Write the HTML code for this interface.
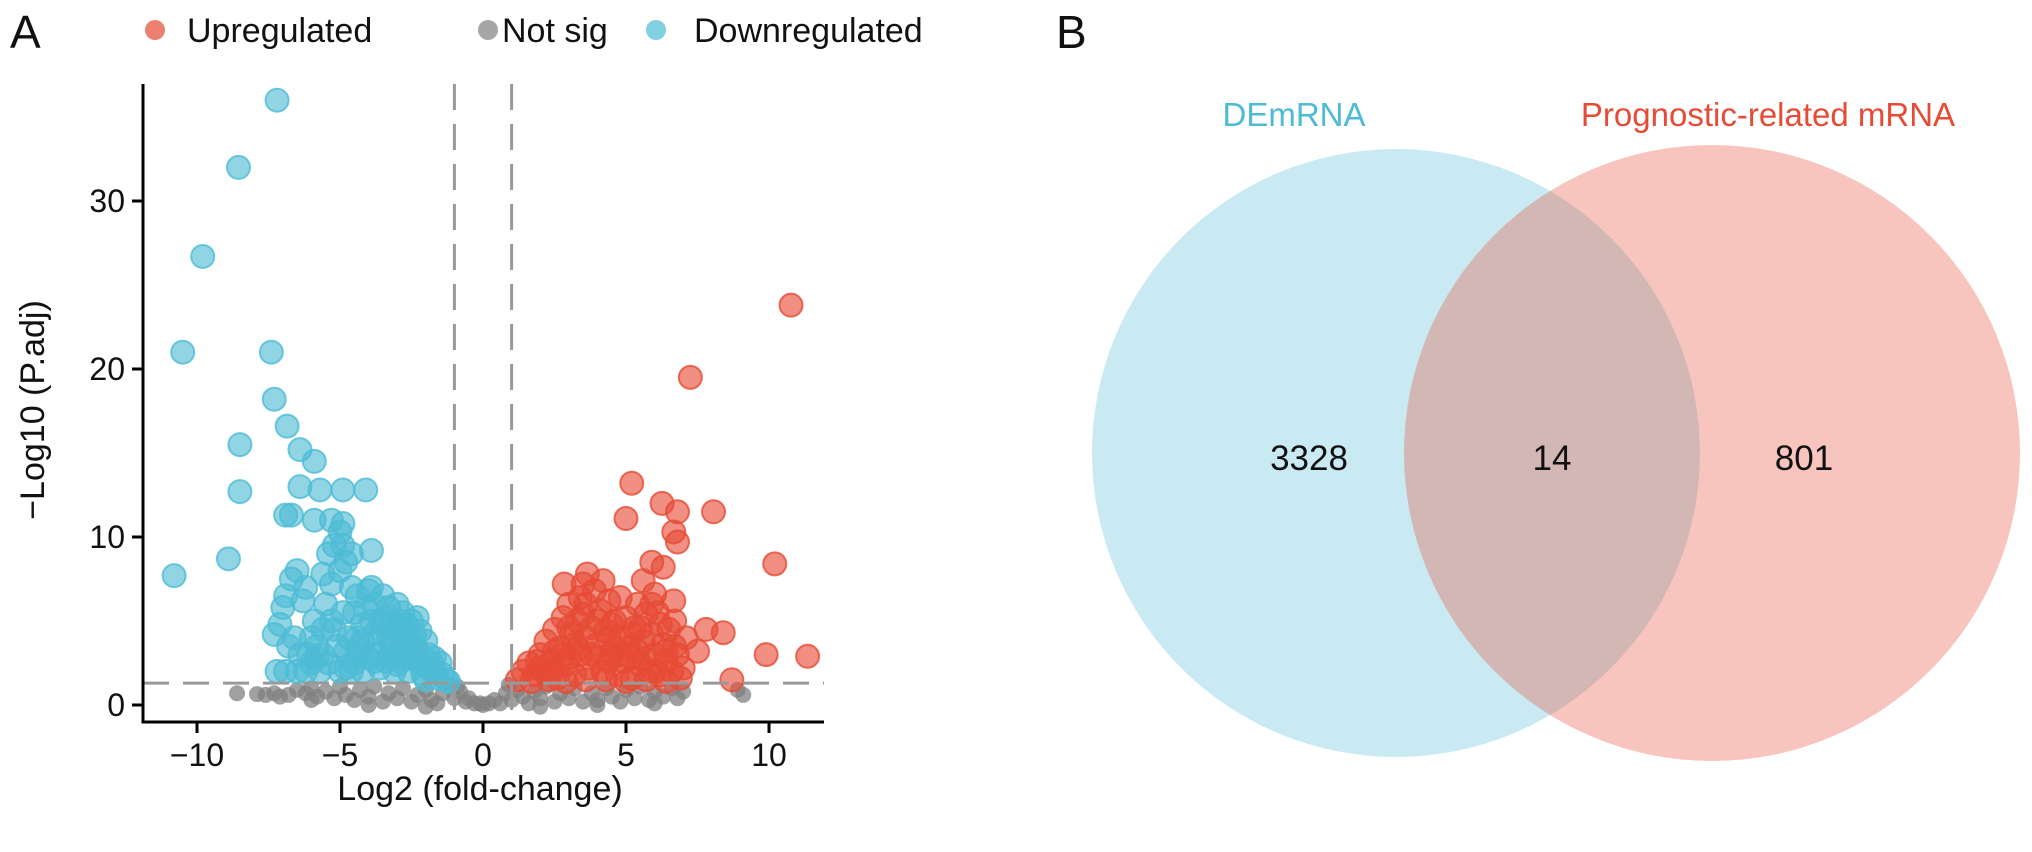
<!DOCTYPE html>
<html><head><meta charset="utf-8">
<style>
html,body{margin:0;padding:0;background:#fff;}
svg{display:block;font-family:"Liberation Sans",Arial,sans-serif;}
</style></head>
<body>
<svg id="fig" width="2032" height="852" viewBox="0 0 2032 852" xmlns="http://www.w3.org/2000/svg">
<text x="10" y="48" font-size="46" fill="#111">A</text>
<g>
  <g><circle cx="155" cy="30" r="10" fill="#E64B35" fill-opacity="0.7"/><text x="187" y="42" font-size="34" fill="#111">Upregulated</text></g>
  <g><circle cx="488" cy="30" r="10" fill="#808080" fill-opacity="0.7"/><text x="502" y="42" font-size="34" fill="#111">Not sig</text></g>
  <g><circle cx="656" cy="30" r="10" fill="#4DBBD5" fill-opacity="0.7"/><text x="694" y="42" font-size="34" fill="#111">Downregulated</text></g>
</g>
<g id="plot"></g>
<text transform="translate(44,410) rotate(-90)" text-anchor="middle" font-size="34" fill="#111">−Log10 (P.adj)</text>
<text x="480" y="800" text-anchor="middle" font-size="34" fill="#111">Log2 (fold-change)</text>

<text x="1056" y="48" font-size="46" fill="#111">B</text>
<g>
  <circle cx="1396" cy="453" r="304" fill="#4DBBD5" fill-opacity="0.3"/>
  <circle cx="1712" cy="453" r="308" fill="#E64B35" fill-opacity="0.32"/>
  <text x="1294" y="126" text-anchor="middle" font-size="33" fill="#4DBBD5">DEmRNA</text>
  <text x="1768" y="126" text-anchor="middle" font-size="33" fill="#E64B35">Prognostic-related mRNA</text>
  <text x="1309" y="470" text-anchor="middle" font-size="35" fill="#111">3328</text>
  <text x="1552" y="470" text-anchor="middle" font-size="35" fill="#111">14</text>
  <text x="1804" y="470" text-anchor="middle" font-size="35" fill="#111">801</text>
</g>
</svg>
<script>
const xTicks = [-10, -5, 0, 5, 10];
const yTicks = [0, 10, 20, 30];
const fcThreshold = [-1, 1];
const pThreshold = 1.3;
const downX = [-7.2,-8.55,-9.8,-10.5,-7.4,-7.3,-6.85,-8.5,-6.4,-5.9,-8.5,-6.4,-5.7,-4.9,-4.1,-6.7,-6.9,-5.9,-5.3,-4.9,-8.9,-10.8,-3.9,
-7.3,-7.1,-7.0,-6.9,-6.7,-6.5,-6.3,-6.8,-6.5,-6.2,-6.0,-5.8,-5.6,-5.5,-5.3,-5.2,-5.0,-4.8,-4.6,-4.5,-4.4,-4.3,-4.2,-4.0,-3.9,-3.8,-3.7,-3.6,-3.5,-3.4,-3.3,-3.2,-3.1,-3.0,-2.9,-2.8,-2.7,-2.6,-2.5,-2.4,-2.3,-2.2,-2.1,-2.0,-1.9,-1.8,-1.7,-1.6,-1.5,-1.4,-1.3,-1.2,-5.9,-6.1,-5.7,-5.4,-5.1,-4.9,-4.7,-4.5,-4.1,-3.9,-4.4,-3.6,-3.3,-3.0,-2.8,-2.6,-2.4,-2.2,-5.6,-5.4,-4.9,-5.0,-6.2,-6.6,-5.3,-4.6,-4.2,-3.8,-3.5,-3.2,-2.9,-2.7,-2.3,-1.9,-7.2,-6.9,-4.8,-3.8,-2.0,
-6.4,-6.0,-5.6,-5.2,-4.8,-4.4,-4.0,-3.6,-3.2,-2.8,-2.4,-5.0,-4.6,-4.2,-3.4,-3.0,-2.6,-5.8,-1.7];
const downY = [36,32,26.7,21,21,18.2,16.6,15.5,15.2,14.5,12.7,13,12.8,12.8,12.8,11.3,11.3,11,11,10.8,8.7,7.7,9.2,
4.2,4.8,5.8,6.5,7.5,8.0,6.2,3.5,2.0,2.0,2.5,3.5,4.5,6.0,7.2,9.5,10.3,8.5,7.0,5.5,4.0,3.0,2.0,6.8,5.0,4.2,3.0,2.2,6.5,5.2,4.0,3.0,2.0,6.0,5.0,4.0,3.0,2.0,5.0,4.2,3.2,2.4,1.8,3.8,3.0,2.5,2.0,1.6,2.5,1.8,1.5,1.4,5.0,3.0,2.0,2.5,3.5,5.5,4.0,2.5,5.8,7.0,6.5,3.8,5.8,4.5,5.5,3.6,2.8,4.4,7.8,9.0,9.5,8.0,7.0,4.0,5.0,9.0,4.8,6.0,4.8,3.6,2.6,4.8,5.2,2.2,2.0,2.0,2.2,2.6,1.5,
3.0,4.0,3.0,4.5,3.2,3.4,2.8,5.0,4.6,3.4,3.6,2.0,2.0,3.8,2.6,2.4,2.8,2.8,2.8];
const upX = [10.77,7.25,5.2,6.26,5.0,6.8,8.06,6.67,6.8,10.2,5.9,6.3,5.6,6.67,3.65,2.84,7.8,8.4,9.9,11.35,7.5,8.7,6.7,
1.2,1.4,1.6,1.8,2.0,2.1,2.2,2.4,2.5,2.6,2.7,2.8,2.9,3.0,3.1,3.2,3.3,3.4,3.5,3.6,3.7,3.8,3.9,4.0,4.1,4.2,4.3,4.4,4.5,4.6,4.7,4.8,4.9,5.0,5.1,5.2,5.3,5.4,5.5,5.6,5.7,5.8,5.9,6.0,6.1,6.2,6.3,6.4,6.5,6.6,6.8,6.9,7.0,2.3,2.9,3.6,4.3,5.0,5.7,6.4,3.3,3.8,4.4,4.8,5.2,5.9,6.2,3.0,2.5,4.0,4.6,5.5,3.4,4.2,1.7,2.0,6.7,7.1,
1.9,2.4,2.8,3.2,3.6,4.0,4.4,4.8,5.2,5.6,6.0,6.4,3.0,3.5,4.5,5.4,6.0];
const upY = [23.8,19.5,13.2,12,11.1,11.5,11.5,10.3,9.7,8.4,8.5,8.2,7.4,6.2,7.8,7.2,4.5,4.3,3.0,2.9,3.2,1.5,3.5,
1.5,2.0,2.5,1.8,3.0,2.0,3.8,2.6,4.5,1.6,3.4,5.2,2.4,6.0,4.2,1.8,5.0,3.0,7.2,6.0,2.2,4.6,6.8,3.6,5.6,2.0,4.4,6.2,3.0,5.0,1.8,4.0,2.6,5.2,3.4,1.6,4.6,6.0,2.4,3.8,5.4,2.0,4.2,3.0,5.5,1.8,3.6,2.6,4.5,2.0,3.0,1.6,2.2,1.5,1.4,1.5,1.5,1.4,1.5,1.4,3.4,3.0,2.6,6.4,2.8,6.0,4.8,2.8,3.2,5.0,3.4,4.6,6.4,7.4,1.4,2.2,5.0,4.0,
2.6,2.0,3.0,3.6,4.0,2.8,4.0,3.0,4.2,2.8,2.0,3.2,4.6,5.4,4.8,3.2,6.6];
const nsX = [-8.6,-7.9,-7.6,-7.3,-7.1,-6.8,-6.5,-6.2,-6.0,-5.8,-5.5,-5.2,-5.0,-4.8,-4.5,-4.3,-4.0,-3.8,-3.5,-3.3,-3.0,-2.8,-2.5,-2.3,-2.0,-1.8,-1.6,-1.4,-1.2,-1.0,-0.8,-0.6,-0.5,-0.3,-0.1,0.0,0.2,0.4,0.6,0.8,1.0,1.2,1.4,1.6,1.8,2.0,2.2,2.5,2.7,3.0,3.2,3.5,3.8,4.0,4.3,4.5,4.8,5.0,5.3,5.5,5.8,6.0,6.3,6.6,6.8,7.0,8.9,9.1,-4.0,-2.0,2.0,4.0,-6.0,6.0,-0.9,0.9];
const nsY = [0.7,0.65,0.6,0.7,0.5,0.6,0.9,0.7,1.0,0.5,0.8,0.4,1.1,0.6,0.3,0.9,0.5,1.1,0.2,0.7,0.4,1.0,0.2,0.6,0.9,0.3,0.1,0.7,1.2,0.4,0.8,0.2,0.4,0.1,0.1,0.0,0.1,0.3,0.1,0.7,0.3,0.9,0.5,0.1,0.8,0.4,1.1,0.2,0.7,0.4,1.0,0.2,0.7,0.3,1.0,0.5,0.2,0.9,0.4,1.1,0.3,0.8,0.5,1.0,0.4,0.8,0.9,0.6,0.0,-0.1,-0.1,0.0,0.3,0.1,1.1,1.2];

const NS = 'http://www.w3.org/2000/svg';
const plot = document.getElementById('plot');
const X = v => 483 + 28.6 * v;
const Y = v => 705 - 16.8 * v;
const axL = 143, axR = 824, axT = 84, axB = 722;
function mk(tag, attrs, parent) {
  const e = document.createElementNS(NS, tag);
  for (const k in attrs) e.setAttribute(k, attrs[k]);
  (parent || plot).appendChild(e);
  return e;
}
const gNs = mk('g', {});


nsX.forEach((x, i) => {
  const c = mk('circle', {cx: X(x), cy: Y(nsY[i]), r: 8, fill: '#808080', 'fill-opacity': 0.75}, gNs);
  
  
});
const gDown = mk('g', {});


downX.forEach((x, i) => {
  const c = mk('circle', {cx: X(x), cy: Y(downY[i]), r: 11.5, fill: '#4DBBD5', 'fill-opacity': 0.62, stroke: '#4DBBD5', 'stroke-opacity': 0.8, 'stroke-width': 2}, gDown);
  
  
});
const gUp = mk('g', {});


upX.forEach((x, i) => {
  const c = mk('circle', {cx: X(x), cy: Y(upY[i]), r: 11.5, fill: '#E64B35', 'fill-opacity': 0.62, stroke: '#E64B35', 'stroke-opacity': 0.8, 'stroke-width': 2}, gUp);
  
  
});
fcThreshold.forEach(v => {
  const l = mk('line', {x1: X(v), x2: X(v), y1: axT, y2: axB, stroke: '#999', 'stroke-width': 3, 'stroke-dasharray': '26 14'});
  
  
});
const hl = mk('line', {x1: axL, x2: axR, y1: Y(pThreshold), y2: Y(pThreshold), stroke: '#999', 'stroke-width': 3, 'stroke-dasharray': '26 14'});


const ya = mk('line', {x1: axL, x2: axL, y1: axT, y2: axB + 1.5, stroke: '#000', 'stroke-width': 3});


const xa = mk('line', {x1: axL - 1.5, x2: axR, y1: axB, y2: axB, stroke: '#000', 'stroke-width': 3});


xTicks.forEach(v => {
  const t = mk('line', {x1: X(v), x2: X(v), y1: axB, y2: axB + 11, stroke: '#000', 'stroke-width': 3});
  
  
  const tx = mk('text', {x: X(v), y: axB + 44, 'text-anchor': 'middle', 'font-size': 32, fill: '#111'});
  tx.textContent = v < 0 ? '\u2212' + Math.abs(v) : String(v);
  
  
});
yTicks.forEach(v => {
  const t = mk('line', {x1: axL - 11, x2: axL, y1: Y(v), y2: Y(v), stroke: '#000', 'stroke-width': 3});
  
  
  const tx = mk('text', {x: axL - 18, y: Y(v) + 11, 'text-anchor': 'end', 'font-size': 32, fill: '#111'});
  tx.textContent = String(v);
  
  
});
</script>
</body></html>
